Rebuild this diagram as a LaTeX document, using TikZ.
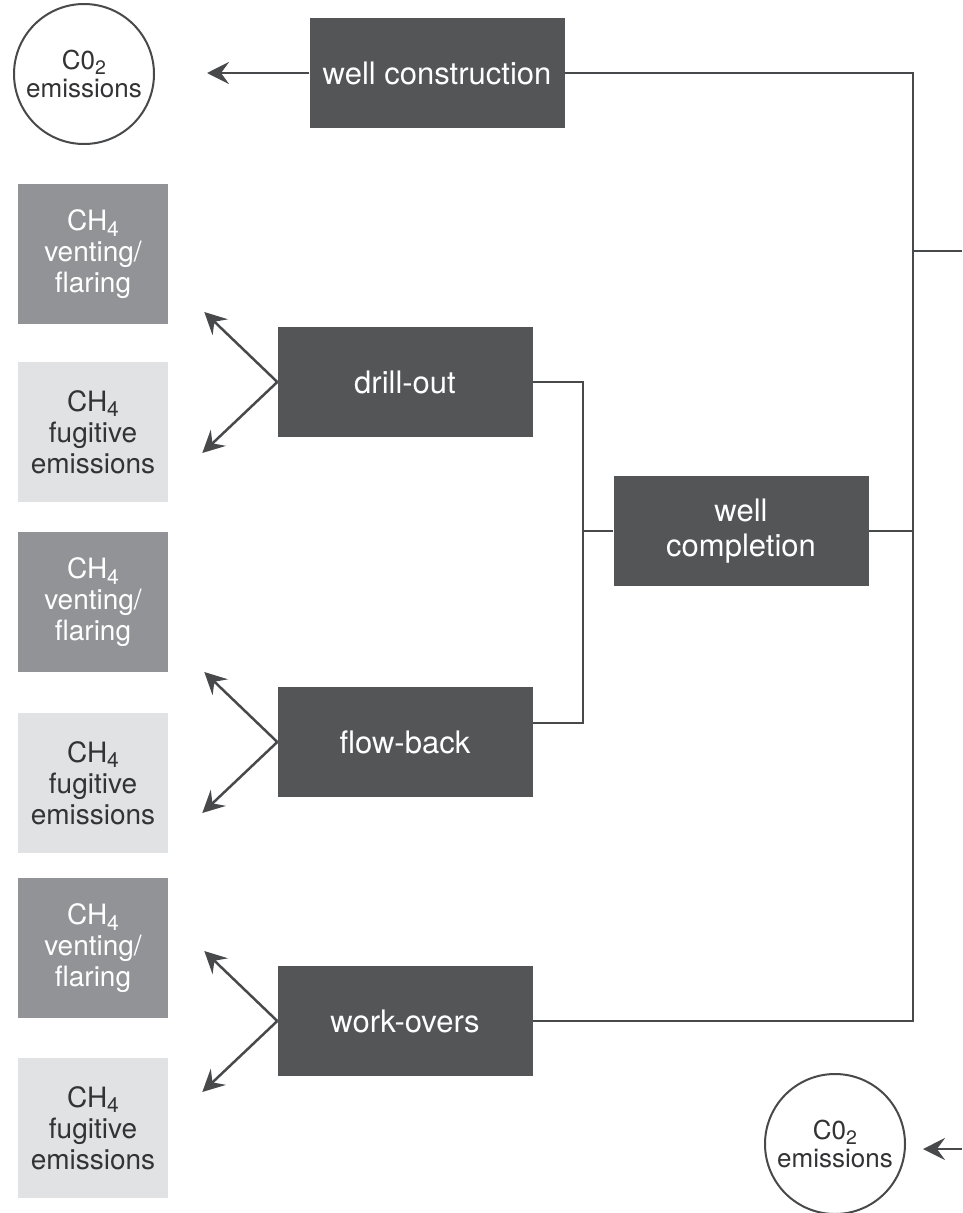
\documentclass[tikz,border=0pt]{standalone}
\usepackage{fontspec}
\setmainfont{TeX Gyre Heros}
\usetikzlibrary{arrows.meta,calc}
\definecolor{boxdark}{HTML}{545557}
\definecolor{ventgray}{HTML}{929397}
\definecolor{fuglight}{HTML}{E1E2E4}
\definecolor{linegray}{HTML}{48494B}
\definecolor{textdark}{HTML}{333335}
\tikzset{
  stagebox/.style={rectangle, fill=boxdark, text=white, inner sep=0pt,
    minimum width=255pt, minimum height=110pt, align=center,
    font=\fontsize{31}{35}\selectfont},
  ventbox/.style={rectangle, fill=ventgray, text=white, inner sep=0pt,
    minimum width=150pt, minimum height=140pt, align=center,
    font=\fontsize{28}{31}\selectfont},
  fugbox/.style={ventbox, fill=fuglight, text=textdark},
  emcircle/.style={circle, draw=linegray, line width=2pt, fill=white,
    text=textdark, minimum size=140pt, inner sep=0pt, align=center,
    font=\fontsize{26}{28}\selectfont},
  link/.style={draw=linegray, line width=2.5pt},
  emit/.style={link, -{Stealth[length=22pt,width=22pt,inset=8pt]}}
}
% chemical formulas with a slightly lowered, fairly large index
\newcommand{\chemsub}[1]{\raisebox{-0.2em}{\scalebox{0.75}{#1}}}
\newcommand{\methane}{CH\chemsub{4}}
\newcommand{\carbondiox}{C0\chemsub{2}}
\begin{document}
\begin{tikzpicture}[x=1pt,y=-1pt]
  \useasboundingbox (0,0) rectangle (962,1213);

  % process stages
  \node[stagebox] (wc)    at (437,73)   {well construction};
  \node[stagebox] (drill) at (405,382)  {drill-out};
  \node[stagebox] (flow)  at (405,742)  {flow-back};
  \node[stagebox] (work)  at (405,1021) {work-overs};
  \node[stagebox] (comp)  at (741,531)  {well\\completion};

  % emission categories
  \node[ventbox] (v1) at (93,254)  {\methane\\venting/\\flaring};
  \node[fugbox]  (f1) at (93,432)  {\methane\\fugitive\\emissions};
  \node[ventbox] (v2) at (93,602)  {\methane\\venting/\\flaring};
  \node[fugbox]  (f2) at (93,783)  {\methane\\fugitive\\emissions};
  \node[ventbox] (v3) at (93,948)  {\methane\\venting/\\flaring};
  \node[fugbox]  (f3) at (93,1128) {\methane\\fugitive\\emissions};

  \node[emcircle] (co2a) at (84,74)    {\carbondiox\\emissions};
  \node[emcircle] (co2b) at (835,1144) {\carbondiox\\emissions};

  % junction points of the tree
  \coordinate (jA) at (583,531);
  \coordinate (jB) at (913,531);
  \coordinate (flowout) at ($(flow.east)+(0,-19)$);
  \coordinate (spinebot) at (work.east -| jB);
  \coordinate (outtop) at (962,251);
  \coordinate (inbot) at (962,1149);

  % tree connectors
  \draw[link] (drill.east) -| (jA);
  \draw[link] (flowout) -| (jA);
  \draw[link] (jA) -- (comp.west);
  \draw[link] (comp.east) -- (jB);
  \draw[link] (wc.east) -| (spinebot) -- (work.east);
  \draw[link] (outtop -| jB) -- (outtop);

  % CO2 arrows
  \draw[emit, shorten >=52pt] (wc.west) -- (wc.west -| co2a.east);
  \draw[emit, shorten >=17pt] (inbot) -- (inbot -| co2b.east);

  % CH4 arrows from each stage
  \foreach \s in {drill,flow,work}{
    \path (\s.west) ++(-73,-70) coordinate (\s-up);
    \path (\s.west) ++(-75,71) coordinate (\s-down);
    \draw[emit] (\s.west) -- (\s-up);
    \draw[emit] (\s.west) -- (\s-down);
  }
\end{tikzpicture}
\end{document}
